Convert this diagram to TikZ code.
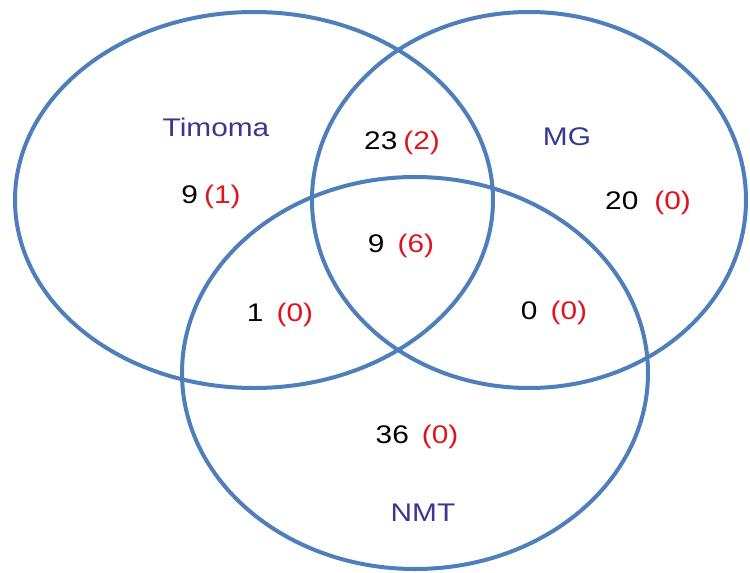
\documentclass[tikz,border=0pt]{standalone}
\usepackage{fontspec}
\setmainfont{Liberation Sans}
% slightly widened sans face used for every label
\newfontfamily\widesans[FakeStretch=1.17]{Liberation Sans}
\definecolor{ringblue}{HTML}{4F7FBA}
\definecolor{setnavy}{HTML}{38388E}
\definecolor{subred}{HTML}{E0141E}
\newcommand{\vcount}[3]{#1\hspace{#3}\textcolor{subred}{(#2)}}
\begin{document}
\begin{tikzpicture}[x=1pt,y=-1pt,
  ring/.style={draw=ringblue,line width=4pt},
  setname/.style={text=setnavy,font=\widesans\fontsize{25.5}{30}\selectfont,inner sep=0pt},
  count/.style={text=black,font=\widesans\fontsize{25.5}{30}\selectfont,inner sep=0pt}]
\useasboundingbox (0,0) rectangle (750,573);
% the three sets
\draw[ring] (254,200) ellipse [x radius=239, y radius=188];
\draw[ring] (529,200) ellipse [x radius=217, y radius=188];
\draw[ring] (415,373) ellipse [x radius=233, y radius=196];
% set names
\node[setname] (timoma) at (216,127) {Timoma};
\node[setname] (mg) at (567,137) {MG};
\node[setname] (nmt) at (423,513) {NMT};
% region counts
\node[count] (tonly) at (211,197) {\vcount{9}{1}{6pt}};
\node[count] (tm) at (402,143) {\vcount{23}{2}{6pt}};
\node[count] (monly) at (648,203) {\vcount{20}{0}{16pt}};
\node[count] (all) at (401,246) {\vcount{9}{6}{13pt}};
\node[count] (tn) at (280,315) {\vcount{1}{0}{13pt}};
\node[count] (mn) at (554,313) {\vcount{0}{0}{13pt}};
\node[count] (nonly) at (417,437) {\vcount{36}{0}{13pt}};
\end{tikzpicture}
\end{document}
